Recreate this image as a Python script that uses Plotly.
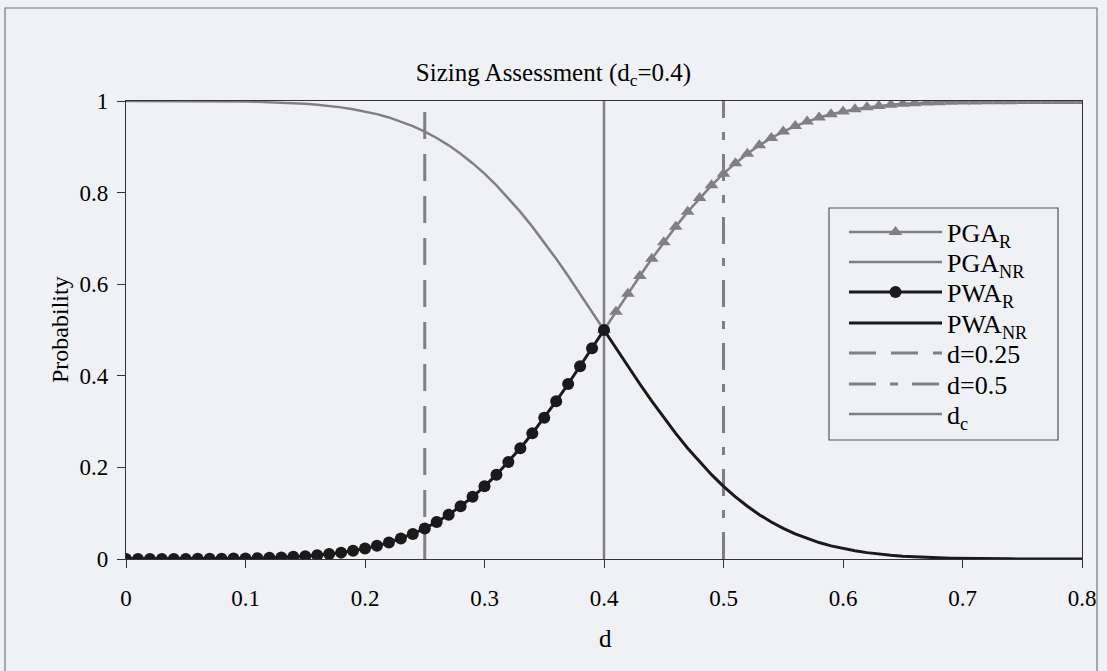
import plotly.graph_objects as go

# ---------------- data ----------------
d_low = [0.00, 0.01, 0.02, 0.03, 0.04, 0.05, 0.06, 0.07, 0.08, 0.09,
         0.10, 0.11, 0.12, 0.13, 0.14, 0.15, 0.16, 0.17, 0.18, 0.19,
         0.20, 0.21, 0.22, 0.23, 0.24, 0.25, 0.26, 0.27, 0.28, 0.29,
         0.30, 0.31, 0.32, 0.33, 0.34, 0.35, 0.36, 0.37, 0.38, 0.39, 0.40]
d_high = [0.40, 0.41, 0.42, 0.43, 0.44, 0.45, 0.46, 0.47, 0.48, 0.49,
          0.50, 0.51, 0.52, 0.53, 0.54, 0.55, 0.56, 0.57, 0.58, 0.59,
          0.60, 0.61, 0.62, 0.63, 0.64, 0.65, 0.66, 0.67, 0.68, 0.69,
          0.70, 0.71, 0.72, 0.73, 0.74, 0.75, 0.76, 0.77, 0.78, 0.79, 0.80]

pwa_r = [0.0000, 0.0000, 0.0001, 0.0001, 0.0002, 0.0002, 0.0003, 0.0005, 0.0007, 0.0010,
         0.0013, 0.0019, 0.0026, 0.0035, 0.0047, 0.0062, 0.0082, 0.0107, 0.0139, 0.0179,
         0.0228, 0.0287, 0.0359, 0.0446, 0.0548, 0.0668, 0.0808, 0.0968, 0.1151, 0.1357,
         0.1587, 0.1841, 0.2119, 0.2420, 0.2743, 0.3085, 0.3446, 0.3821, 0.4207, 0.4602, 0.5000]
pga_nr = [1.0000, 1.0000, 0.9999, 0.9999, 0.9998, 0.9998, 0.9997, 0.9995, 0.9993, 0.9990,
          0.9987, 0.9981, 0.9974, 0.9965, 0.9953, 0.9938, 0.9918, 0.9893, 0.9861, 0.9821,
          0.9772, 0.9713, 0.9641, 0.9554, 0.9452, 0.9332, 0.9192, 0.9032, 0.8849, 0.8643,
          0.8413, 0.8159, 0.7881, 0.7580, 0.7257, 0.6915, 0.6554, 0.6179, 0.5793, 0.5398, 0.5000]
pga_r = [0.5000, 0.5398, 0.5793, 0.6179, 0.6554, 0.6915, 0.7257, 0.7580, 0.7881, 0.8159,
         0.8413, 0.8643, 0.8849, 0.9032, 0.9192, 0.9332, 0.9452, 0.9554, 0.9641, 0.9713,
         0.9772, 0.9821, 0.9861, 0.9893, 0.9918, 0.9938, 0.9953, 0.9965, 0.9974, 0.9981,
         0.9987, 0.9990, 0.9993, 0.9995, 0.9997, 0.9998, 0.9998, 0.9999, 0.9999, 1.0000, 1.0000]
pwa_nr = [0.5000, 0.4602, 0.4207, 0.3821, 0.3446, 0.3085, 0.2743, 0.2420, 0.2119, 0.1841,
          0.1587, 0.1357, 0.1151, 0.0968, 0.0808, 0.0668, 0.0548, 0.0446, 0.0359, 0.0287,
          0.0228, 0.0179, 0.0139, 0.0107, 0.0082, 0.0062, 0.0047, 0.0035, 0.0026, 0.0019,
          0.0013, 0.0010, 0.0007, 0.0005, 0.0003, 0.0002, 0.0002, 0.0001, 0.0001, 0.0000, 0.0000]

ref_names = ["d=0.25", "d=0.5", "d<sub>c</sub>"]
ref_values = [0.25, 0.5, 0.4]
prob_span = [0, 1]

x_ticks = [0, 0.1, 0.2, 0.3, 0.4, 0.5, 0.6, 0.7, 0.8]
y_ticks = [0, 0.2, 0.4, 0.6, 0.8, 1]

# ---------------- styling ----------------
FONT = "Liberation Serif"
BG = "#eff1f5"
GREY = "#808080"
BLACK = "#1a1a1a"

W, H = 1107, 671
L, R, T, B = 126, 25, 101, 112
pw, ph = W - L - R, H - T - B

def px_x(p):
    return (p - L) / pw

def px_y(p):
    return (H - B - p) / ph

# legend rows (one small legend per row so the row spacing matches)
legend_ids = ["legend", "legend2", "legend3", "legend4", "legend5", "legend6", "legend7"]
row_y = [232, 262, 292, 323, 353, 384, 414]

fig = go.Figure()

ref_styles = [
    dict(color=GREY, width=3, dash="27px,15px"),
    dict(color=GREY, width=3, dash="27px,14px,8px,14px"),
    dict(color=GREY, width=2.5, dash="solid"),
]
for i, (nm, v) in enumerate(zip(ref_names, ref_values)):
    fig.add_trace(go.Scatter(x=[v, v], y=prob_span, mode="lines", name=nm,
                             line=ref_styles[i], legend=legend_ids[4 + i],
                             hoverinfo="skip"))

fig.add_trace(go.Scatter(x=d_low, y=pga_nr, mode="lines", name="PGA<sub>NR</sub>",
                         line=dict(color=GREY, width=2.5), legend=legend_ids[1]))
fig.add_trace(go.Scatter(x=d_high, y=pwa_nr, mode="lines", name="PWA<sub>NR</sub>",
                         line=dict(color=BLACK, width=3), legend=legend_ids[3]))
fig.add_trace(go.Scatter(x=d_high, y=pga_r, mode="lines+markers", name="PGA<sub>R</sub>",
                         line=dict(color=GREY, width=2.5),
                         marker=dict(symbol="triangle-up", size=12, color=GREY),
                         legend=legend_ids[0]))
fig.add_trace(go.Scatter(x=d_low, y=pwa_r, mode="lines+markers", name="PWA<sub>R</sub>",
                         line=dict(color=BLACK, width=3),
                         marker=dict(symbol="circle", size=12, color=BLACK),
                         legend=legend_ids[2]))

axis_common = dict(showgrid=False, zeroline=False, showline=True, linecolor="#333333",
                   linewidth=1.3, mirror=True, ticks="outside", ticklen=8,
                   tickcolor="#333333", tickwidth=1.3,
                   tickfont=dict(family=FONT, size=23, color="black"))

legend_layouts = {}
for lid, yy in zip(legend_ids, row_y):
    legend_layouts[lid] = dict(x=px_x(844), y=px_y(yy), xanchor="left", yanchor="middle",
                               bgcolor="rgba(0,0,0,0)", borderwidth=0,
                               font=dict(family=FONT, size=26, color="black"),
                               itemwidth=93)

fig.update_layout(
    width=W, height=H,
    margin=dict(l=L, r=R, t=T, b=B),
    paper_bgcolor=BG, plot_bgcolor=BG,
    font=dict(family=FONT, color="black"),
    showlegend=True,
    title=dict(text="Sizing Assessment (d<sub>c</sub>=0.4)", x=0.5, xref="container",
               xanchor="center", y=1 - 72 / H, yref="container", yanchor="middle",
               font=dict(family=FONT, size=25, color="black")),
    xaxis=dict(range=[0, 0.8], tickvals=x_ticks, ticklabelstandoff=10, **axis_common),
    yaxis=dict(range=[0, 1], tickvals=y_ticks, ticklabelstandoff=4, **axis_common),
    shapes=[
        dict(type="rect", xref="paper", yref="paper",
             x0=px_x(5), x1=px_x(1097), y0=px_y(690), y1=px_y(8),
             line=dict(color="#777777", width=1.2), fillcolor="rgba(0,0,0,0)",
             layer="below"),
        dict(type="rect", xref="paper", yref="paper",
             x0=px_x(829), x1=px_x(1058), y0=px_y(440), y1=px_y(208),
             line=dict(color="#555555", width=1.2), fillcolor=BG,
             layer="below"),
    ],
    annotations=[
        dict(text="Probability", xref="paper", yref="paper", x=px_x(60), y=px_y(330),
             textangle=-90, showarrow=False, xanchor="center", yanchor="middle",
             font=dict(family=FONT, size=24, color="black")),
        dict(text="d", xref="paper", yref="paper", x=px_x(605), y=px_y(638),
             showarrow=False, xanchor="center", yanchor="middle",
             font=dict(family=FONT, size=25, color="black")),
    ],
    **legend_layouts,
)

fig.write_html("out.html", config={"displayModeBar": False},
               post_script="document.body.style.margin='0px';")
